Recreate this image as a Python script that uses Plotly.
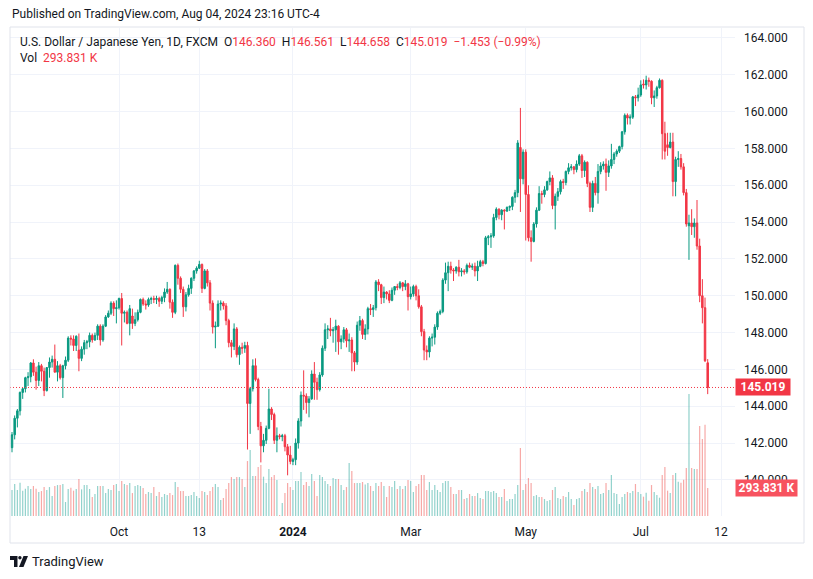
import plotly.graph_objects as go
import pandas as pd

# ---------------- data (USD/JPY daily, FXCM) ----------------
first_day = "2023-08-07"
last_day = "2024-08-05"

opens = [
    141.75,142.45,143.35,143.75,144.75,144.95,145.55,145.60,146.35,145.85,
    145.40,146.20,145.90,144.85,146.10,146.40,146.55,145.85,146.20,145.55,
    146.20,146.50,147.70,147.65,147.30,147.05,146.60,147.10,147.45,147.50,
    147.85,147.60,147.85,148.35,147.60,148.35,148.85,149.05,149.60,149.30,
    149.35,149.85,149.05,149.10,148.50,148.90,148.50,148.70,149.10,149.80,
    149.55,149.50,149.80,149.85,149.80,149.85,149.70,149.90,150.20,150.35,
    149.65,149.10,151.65,150.95,150.35,149.40,150.05,150.40,150.95,151.35,
    151.50,151.70,150.40,151.35,150.70,149.60,148.30,148.35,149.55,149.60,
    149.45,148.65,147.45,147.25,148.20,146.80,147.20,147.15,147.30,144.15,
    144.95,146.20,145.45,142.90,141.85,142.15,142.80,143.85,143.55,142.15,
    142.40,142.35,142.40,141.80,141.35,141.00,141.10,142.00,143.20,144.60,
    144.55,144.20,144.40,145.75,145.30,144.90,145.70,147.15,148.15,148.20,
    148.10,148.15,148.35,147.50,147.65,148.15,147.55,147.60,146.90,146.40,
    148.40,148.65,147.90,148.20,149.30,149.25,149.35,150.75,150.60,149.90,
    150.20,150.10,149.75,150.30,150.50,150.45,150.70,150.50,150.65,149.95,
    150.10,150.50,150.00,149.40,148.05,147.05,146.95,147.70,147.75,148.30,
    149.05,149.15,150.85,151.25,151.60,151.40,151.35,151.55,151.30,151.35,
    151.30,151.65,151.55,151.60,151.35,151.60,151.85,151.75,153.15,153.20,
    153.25,154.25,154.70,154.40,154.65,154.60,154.80,154.85,155.35,155.60,
    158.05,156.35,157.80,155.50,153.15,152.95,153.90,154.65,155.55,155.50,
    155.75,156.20,156.40,154.90,155.40,155.65,156.20,156.15,156.75,156.95,
    157.00,156.85,157.15,157.60,156.80,157.25,156.10,154.80,156.10,155.60,
    156.75,157.05,157.15,156.70,157.05,157.40,157.70,157.85,158.10,158.90,
    159.80,159.65,159.70,160.80,160.75,160.90,161.50,161.45,161.70,161.65,
    160.75,160.85,161.30,161.70,158.80,158.20,158.05,158.35,156.20,157.40,
    157.45,157.00,155.60,153.80,153.95,153.75,153.95,152.70,150.00,149.35,
    146.36,
]
highs = [
    142.60,143.50,143.85,144.80,145.00,145.60,145.85,146.40,146.55,146.15,
    146.40,146.30,146.10,146.10,146.65,146.75,147.35,146.45,146.30,146.25,
    146.70,147.80,147.85,147.85,147.85,147.95,147.25,147.60,147.60,148.00,
    147.95,148.00,148.45,148.45,148.45,148.95,149.20,149.70,149.70,149.75,
    149.90,150.15,149.20,149.20,149.50,149.30,149.10,149.25,149.85,149.90,
    149.75,149.90,149.95,150.00,150.00,149.95,150.00,150.40,150.75,150.40,
    149.80,151.70,151.75,151.05,150.50,150.20,150.60,151.00,151.40,151.60,
    151.90,151.75,151.45,151.45,150.85,149.75,148.60,149.75,149.75,149.70,
    149.60,148.75,147.60,148.50,148.30,147.30,147.45,147.50,147.50,145.05,
    146.55,146.60,145.55,143.15,142.50,142.95,144.95,143.95,143.65,142.85,
    142.50,142.50,142.50,141.95,141.85,141.20,142.25,143.35,144.80,145.95,
    144.70,144.55,145.95,146.40,145.55,145.85,147.30,148.50,148.40,148.80,
    148.30,148.70,148.40,147.85,148.30,148.25,147.95,147.75,147.00,148.60,
    148.90,148.75,148.45,149.40,149.55,149.50,150.85,150.90,150.65,150.50,
    150.25,150.30,150.45,150.50,150.65,150.80,150.75,150.85,150.70,150.50,
    150.60,150.60,150.35,149.50,148.20,147.30,147.80,147.95,148.45,149.15,
    149.25,150.95,151.80,151.85,151.85,151.50,151.60,151.95,151.50,151.45,
    151.75,151.80,151.75,151.80,151.90,151.95,151.95,153.25,153.30,153.40,
    154.45,154.80,154.75,154.70,154.70,154.85,154.90,155.40,155.75,158.45,
    160.20,157.95,157.95,156.00,153.55,154.00,154.80,155.95,155.70,155.95,
    156.25,156.75,156.55,155.55,155.85,156.30,156.35,156.80,157.20,157.15,
    157.05,157.35,157.70,157.70,157.35,157.30,156.20,156.25,156.45,157.15,
    157.25,157.30,157.45,157.35,158.25,157.80,157.95,158.15,158.95,159.90,
    159.90,159.85,160.85,160.90,161.30,161.70,161.75,161.95,161.85,161.70,
    161.15,161.40,161.80,161.75,159.45,158.85,158.85,158.85,157.55,157.85,
    157.70,157.20,155.80,154.40,154.70,154.20,155.20,153.10,150.90,149.90,
    146.561,
]
lows = [
    141.50,142.20,142.85,143.50,144.40,144.75,145.10,145.30,145.65,144.90,
    145.10,145.35,144.55,144.80,145.55,146.10,145.90,145.35,145.45,144.45,
    146.00,146.40,147.30,147.00,147.00,145.90,146.45,146.80,147.10,147.20,
    147.45,147.55,147.60,147.30,147.50,148.30,148.80,148.95,148.90,148.50,
    149.25,147.30,148.55,148.45,147.85,148.20,148.35,148.60,149.05,149.45,
    149.25,149.40,149.55,149.60,149.55,149.40,149.55,149.65,150.10,149.30,
    148.80,149.00,150.60,150.15,148.85,149.15,149.95,150.10,150.80,151.20,
    151.45,150.15,150.35,150.50,149.20,147.95,147.15,148.30,149.20,149.25,
    148.40,147.20,146.65,147.05,146.65,146.25,146.85,146.90,141.65,142.50,
    144.80,145.35,142.70,140.95,141.50,141.95,142.75,143.25,141.95,141.50,
    142.20,142.10,141.55,140.25,140.85,140.80,140.80,141.70,142.90,143.80,
    143.60,143.40,144.35,144.35,144.35,144.80,145.60,147.00,147.65,147.80,
    147.45,146.95,146.80,147.10,147.45,147.20,146.95,145.90,145.90,146.25,
    148.10,147.65,147.60,147.90,148.95,148.85,149.20,150.25,149.55,149.60,
    149.80,149.60,149.70,150.05,150.30,150.35,150.25,150.30,149.20,149.80,
    149.95,149.75,149.30,147.80,146.50,146.50,146.65,147.25,147.35,148.15,
    148.95,149.05,150.65,150.25,151.20,150.80,151.20,151.05,151.05,151.15,
    151.20,151.50,151.40,151.05,150.80,151.55,151.60,151.70,152.75,152.60,
    153.15,154.10,154.15,154.10,153.60,154.55,154.60,154.65,155.05,155.35,
    154.55,156.05,153.00,152.95,151.85,152.90,153.70,154.60,155.00,155.35,
    155.70,156.00,154.70,153.60,155.15,155.50,155.80,156.00,156.60,156.80,
    156.60,156.70,157.05,156.40,156.45,155.90,154.55,154.55,155.45,155.00,
    156.60,156.85,155.70,156.45,156.90,157.15,157.55,157.75,157.95,158.75,
    159.30,159.30,159.60,160.30,160.55,160.80,161.25,161.20,161.35,160.40,
    160.25,160.70,161.25,157.40,157.40,157.60,158.00,155.40,155.40,157.00,
    156.85,155.45,153.75,151.95,153.30,153.15,152.50,149.65,148.50,146.40,
    144.658,
]
closes = [
    142.45,143.35,143.75,144.75,144.95,145.55,145.60,146.35,145.85,145.40,
    146.20,145.90,144.85,146.10,146.40,146.55,145.85,146.20,145.55,146.20,
    146.50,147.70,147.65,147.30,147.80,146.60,147.10,147.45,147.50,147.85,
    147.60,147.85,148.35,147.60,148.35,148.85,149.05,149.60,149.30,149.35,
    149.85,149.05,149.10,148.50,149.30,148.50,148.70,149.10,149.80,149.55,
    149.50,149.80,149.85,149.80,149.85,149.70,149.90,150.20,150.35,149.65,
    149.10,151.65,150.95,150.35,149.40,150.05,150.40,150.95,151.35,151.50,
    151.70,150.40,151.35,150.70,149.60,148.30,148.35,149.55,149.60,149.45,
    148.65,147.45,147.25,148.20,146.80,147.20,147.15,147.30,144.15,144.95,
    146.20,145.45,142.90,141.85,142.15,142.80,143.85,143.55,142.15,142.40,
    142.35,142.40,141.80,141.35,141.00,141.10,142.00,143.20,144.60,144.55,
    144.20,144.40,145.75,145.30,144.90,145.70,147.15,148.15,148.20,148.10,
    148.15,148.35,147.50,147.65,148.15,147.55,147.60,146.90,146.40,148.40,
    148.65,147.90,148.20,149.30,149.25,149.35,150.75,150.60,149.90,150.20,
    150.10,149.75,150.30,150.50,150.45,150.70,150.50,150.65,149.95,150.10,
    150.50,150.00,149.40,148.05,147.05,146.95,147.70,147.75,148.30,149.05,
    149.15,150.85,151.25,151.60,151.40,151.35,151.55,151.30,151.35,151.30,
    151.65,151.55,151.60,151.35,151.60,151.85,151.75,153.15,153.20,153.25,
    154.25,154.70,154.40,154.65,154.60,154.80,154.85,155.35,155.60,158.30,
    156.35,157.80,155.50,153.15,152.95,153.90,154.65,155.55,155.50,155.75,
    156.20,156.40,154.90,155.40,155.65,156.20,156.15,156.75,156.95,157.00,
    156.85,157.15,157.60,156.80,157.25,156.10,154.80,156.10,155.60,156.75,
    157.05,157.15,156.70,157.05,157.40,157.70,157.85,158.10,158.90,159.80,
    159.65,159.70,160.80,160.75,160.90,161.45,161.45,161.70,161.65,160.75,
    160.85,161.30,161.70,158.80,157.85,158.05,158.35,156.20,157.40,157.45,
    157.00,155.60,153.90,153.95,153.75,153.95,152.70,150.00,149.35,146.47,
    145.019,
]
volumes_k = [
    273,336,273,350,266,287,315,283,315,287, 252,262,304,273,304,210,315,325,325,336,
    147,283,297,266,283,388,280,325,325,283, 199,231,315,315,315,241,283,273,325,336,
    262,367,336,325,346,241,315,325,315,294, 231,252,241,304,210,252,199,231,220,241,
    220,357,304,262,262,210,210,220,252,210, 189,262,252,220,262,304,336,304,168,189,
    283,346,409,388,409,409,388,304,577,693, 420,420,514,535,413,346,493,409,430,378,
    10,136,241,346,304,273,367,367,462,325, 357,315,441,367,210,430,409,367,336,315,
    399,388,388,325,273,304,556,472,346,346, 346,357,330,
    346,315,262,346,315,357,315,199,315,304, 367,283,315,283,315,378,367,252,315,336,
    430,430,273,357,273,325,273,252,346,367, 367,304,231,231,273,273,178,189,231,210,
    210,241,189,178,262,262,252,262,241,199, 199,283,157,178,178,231,325,714,273,336,
    399,346,210,220,199,199,178,157,168,273, 304,189,178,210,199,252,178,115,178,189,
    262,283,252,346,304,283,315,231,241,346, 273,430,241,231,126,199,231,252,241,262,
    336,252,231,
    203,245,161,325,252,220,192,430,514,266,241,430,451,360,350,381,504,1280,504,493,
    493,944,808,958,294,
]

tick_dates = ["2023-10-02", "2023-11-13", "2024-01-01", "2024-03-01",
              "2024-05-01", "2024-07-01", "2024-08-12"]
tick_text = ["Oct", "13", "<b>2024</b>", "Mar", "May", "Jul", "12"]
price_ticks = [140, 142, 144, 146, 148, 150, 152, 154, 156, 158, 160, 162, 164]

last_price = closes[-1]
last_volume_k = volumes_k[-1]

# ---------------- derived ----------------
dates = pd.bdate_range(first_day, last_day)
axis_days = pd.bdate_range(first_day, "2024-08-12")
index_of = {d.strftime("%Y-%m-%d"): i for i, d in enumerate(axis_days)}
tick_pos = [index_of[d] for d in tick_dates]
xs = list(range(len(closes)))
hover_dates = [d.strftime("%b %d, %Y") for d in dates[:len(closes)]]

UP = "#089981"
DN = "#F23645"
VUP = "rgba(38,166,154,0.5)"
VDN = "rgba(239,83,80,0.5)"
TXT = "#131722"
GRID = "#f0f3fa"
FONT = "Roboto"

vol_colors = [VUP if c >= o else VDN for o, c in zip(opens, closes)]

W, H = 813, 579
PL, PR, PT, PB = 10, 735, 28, 516  # pane in pixels
PW, PH = PR - PL, PB - PT


def px(x):
    return (x - PL) / PW


def py(y):
    return (PB - y) / PH


x_range = [-0.75, 270.2]
y_range = [138.04, 164.54]
vol_max = last_volume_k * PH / 28.0

fig = go.Figure()

fig.add_trace(go.Bar(
    x=xs, y=volumes_k, marker=dict(color=vol_colors, line=dict(width=0)),
    width=0.45, yaxis="y", xaxis="x", hoverinfo="skip", showlegend=False,
))

# last price dotted line
fig.add_trace(go.Scatter(
    x=x_range, y=[last_price, last_price], mode="lines", yaxis="y2", xaxis="x",
    line=dict(color=DN, width=1, dash="1px,2px"), hoverinfo="skip", showlegend=False,
))

fig.add_trace(go.Candlestick(
    x=xs, open=opens, high=highs, low=lows, close=closes,
    text=hover_dates, yaxis="y2", xaxis="x",
    increasing=dict(line=dict(color=UP, width=1), fillcolor=UP),
    decreasing=dict(line=dict(color=DN, width=1), fillcolor=DN),
    whiskerwidth=0, showlegend=False,
))

shapes = [
    dict(type="rect", xref="paper", yref="paper", x0=px(10), x1=px(804), y0=py(27), y1=py(543),
         line=dict(color="#e0e3eb", width=1), fillcolor="rgba(0,0,0,0)", layer="above"),
]


def path_px(points):
    return "M " + " L ".join(f"{px(a):.5f},{py(b):.5f}" for a, b in points) + " Z"


shapes.append(dict(type="path", xref="paper", yref="paper",
                   path=path_px([(10, 556), (17.5, 556), (17.5, 567), (14, 567), (14, 560), (10, 560)]),
                   fillcolor=TXT, line=dict(width=0)))
shapes.append(dict(type="circle", xref="paper", yref="paper",
                   x0=px(18.2), x1=px(21.6), y0=py(556), y1=py(559.4),
                   fillcolor=TXT, line=dict(width=0)))
shapes.append(dict(type="path", xref="paper", yref="paper",
                   path=path_px([(23.5, 556), (28, 556), (23.5, 567), (19, 567)]),
                   fillcolor=TXT, line=dict(width=0)))

red = f"<span style='color:{DN}'>"
header = ("U.S. Dollar / Japanese Yen, 1D, FXCM\u00a0\u00a0"
          f"O{red}146.360</span>\u00a0\u00a0H{red}146.561</span>\u00a0\u00a0"
          f"L{red}144.658</span>\u00a0\u00a0C{red}145.019</span>\u00a0\u00a0"
          f"{red}\u22121.453 (\u22120.99%)</span>")

annotations = [
    dict(xref="paper", yref="paper", x=px(10), y=py(14), xanchor="left", yanchor="middle",
         text="Published on TradingView.com, Aug 04, 2024 23:16 UTC-4", showarrow=False,
         font=dict(family=FONT, size=12, color=TXT)),
    dict(xref="paper", yref="paper", x=px(18), y=py(42), xanchor="left", yanchor="middle",
         text=header, showarrow=False, font=dict(family=FONT, size=12, color=TXT)),
    dict(xref="paper", yref="paper", x=px(18), y=py(58), xanchor="left", yanchor="middle",
         text=f"Vol\u00a0\u00a0{red}293.831\u00a0K</span>",
         showarrow=False, font=dict(family=FONT, size=12, color=TXT)),
    dict(xref="paper", yref="y2", x=1, y=last_price, xanchor="left", yanchor="middle",
         text=f"<b>{last_price:.3f}</b>", showarrow=False, bgcolor=DN, width=52, height=14,
         borderpad=1, font=dict(family=FONT, size=12, color="white")),
    dict(xref="paper", yref="y", x=1, y=last_volume_k, xanchor="left", yanchor="middle",
         text="<b>293.831\u00a0K</b>", showarrow=False, bgcolor="#F7525F", width=59, height=14,
         borderpad=1, font=dict(family=FONT, size=12, color="white")),
    dict(xref="paper", yref="paper", x=px(30), y=py(561), xanchor="left", yanchor="middle",
         text="TradingView", showarrow=False, font=dict(family=FONT, size=13, color=TXT)),
]

fig.update_layout(
    width=W, height=H,
    margin=dict(l=PL, r=W - PR, t=PT, b=H - PB, pad=0, autoexpand=False),
    paper_bgcolor="white", plot_bgcolor="white",
    showlegend=False, boxgap=0.2,
    font=dict(family=FONT, size=12, color=TXT),
    xaxis=dict(range=x_range, tickmode="array", tickvals=tick_pos, ticktext=tick_text,
               showgrid=True, gridcolor=GRID, gridwidth=1, zeroline=False, showline=False,
               ticks="", ticklabelstandoff=7, tickfont=dict(family=FONT, size=12, color=TXT),
               rangeslider=dict(visible=False), fixedrange=True),
    yaxis=dict(range=[0, vol_max], visible=False, showgrid=False, zeroline=False, fixedrange=True),
    yaxis2=dict(range=y_range, overlaying="y", side="right", anchor="x",
                tickmode="array", tickvals=price_ticks,
                ticktext=[f"{v:.3f}" for v in price_ticks],
                showgrid=True, gridcolor=GRID, gridwidth=1, zeroline=False, showline=False,
                ticks="", ticklabelstandoff=8, tickfont=dict(family=FONT, size=12, color=TXT),
                fixedrange=True),
    shapes=shapes,
    annotations=annotations,
)

fig.write_html("out.html",
               config={"displayModeBar": False},
               post_script="document.body.style.margin='0px';document.body.style.padding='0px';")
